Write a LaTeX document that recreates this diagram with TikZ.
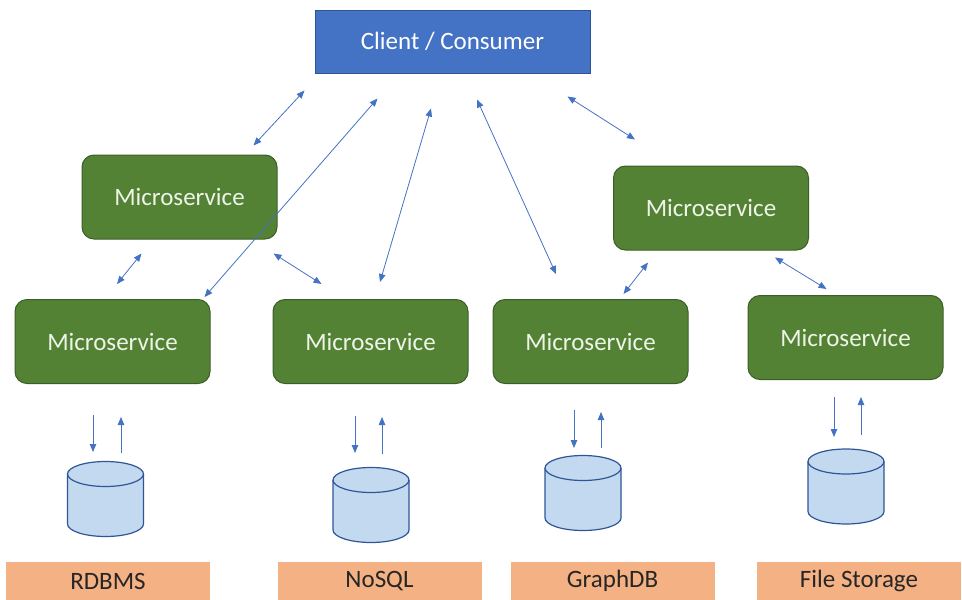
\documentclass[tikz,border=0pt]{standalone}
\usepackage{fontspec}
\setmainfont{Carlito}
\usetikzlibrary{arrows.meta}
\definecolor{clientblue}{HTML}{4472C4}
\definecolor{clientline}{HTML}{2F5597}
\definecolor{msgreen}{HTML}{548235}
\definecolor{msline}{HTML}{3B5E27}
\definecolor{mstext}{HTML}{EEF5E8}
\definecolor{dbfill}{HTML}{C3D9F0}
\definecolor{dbline}{HTML}{2F5597}
\definecolor{storeorange}{HTML}{F4B183}
\definecolor{storetext}{HTML}{262626}
\definecolor{linkblue}{HTML}{4472C4}

\begin{document}
\begin{tikzpicture}[x=1pt,y=-1pt,
    every node/.style={font=\fontsize{25}{30}\selectfont},
    client/.style={draw=clientline,line width=1pt,fill=clientblue,text=white,
      minimum width=275,minimum height=63},
    service/.style={draw=msline,line width=1pt,fill=msgreen,text=mstext,
      rounded corners=12,minimum width=195,minimum height=84},
    can/.style={draw=dbline,line width=1.2pt,fill=dbfill},
    store/.style={fill=storeorange,text=storetext,minimum width=204,minimum height=39},
    link/.style={linkblue,line width=0.8pt,<->,>={Triangle[length=8pt,width=6.5pt]}},
    flow/.style={linkblue,line width=0.8pt,->,>={Triangle[length=8pt,width=6.5pt]}}]

  \useasboundingbox (0,0) rectangle (962,600);

  \node[client] (client) at (452.5,41.5) {Client / Consumer};

  \node[service] (ms1) at (179.5,197) {Microservice};
  \node[service] (ms2) at (711,208) {Microservice};
  \node[service] (ms3) at (112.5,341.5) {Microservice};
  \node[service] (ms4) at (370.5,341.5) {Microservice};
  \node[service] (ms5) at (590.5,341.5) {Microservice};
  \node[service] (ms6) at (845.5,337.5) {Microservice};

  \coordinate (db1) at (105.5,499);
  \coordinate (db2) at (371,505);
  \coordinate (db3) at (583,493);
  \coordinate (db4) at (846,486.5);

  \foreach \c in {db1,db2,db3,db4}{
    \draw[can] ([shift={(-38,-25)}]\c) -- ([shift={(-38,25)}]\c)
      arc (180:360:38pt and 12.5pt) -- ([shift={(38,-25)}]\c)
      arc (0:180:38pt and 12.5pt) -- cycle;
    \draw[can,fill=none] ([shift={(-38,-25)}]\c) arc (180:360:38pt and 12.5pt);
  }

  \node[store] (rdbms) at (108,581) {RDBMS};
  \node[store] (nosql) at (379.5,581) {NoSQL};
  \node[store] (graph) at (612.5,581) {GraphDB};
  \node[store] (files) at (859,581) {File Storage};

  \draw[link] ([shift={(-10,17)}]client.south west) -- ([shift={(-24,-9)}]ms1.north east);
  \draw[link] ([shift={(63,25)}]client.south west) -- ([shift={(-6,-2)}]ms3.north east);
  \draw[link] ([shift={(-21.5,35)}]client.south) -- ([shift={(9.5,-17)}]ms4.north);
  \draw[link] ([shift={(24.5,26)}]client.south) -- ([shift={(-34.5,-25)}]ms5.north);
  \draw[link] ([shift={(-23,23)}]client.south east) -- ([shift={(22,-26)}]ms2.north west);

  \draw[link] ([shift={(60,14)}]ms1.south west) -- ([shift={(4.5,-15)}]ms3.north);
  \draw[link] ([shift={(-4,14)}]ms1.south east) -- ([shift={(49,-15)}]ms4.north west);
  \draw[link] ([shift={(35,12)}]ms2.south west) -- ([shift={(-65,-5)}]ms5.north east);
  \draw[link] ([shift={(-34,7)}]ms2.south east) -- ([shift={(79,-6)}]ms6.north west);

  \draw[flow] ([shift={(-12.5,-84)}]db1) -- ([shift={(-12.5,-47)}]db1);
  \draw[flow] ([shift={(15.5,-46)}]db1) -- ([shift={(15.5,-82)}]db1);
  \draw[flow] ([shift={(-16,-89)}]db2) -- ([shift={(-16,-52)}]db2);
  \draw[flow] ([shift={(11,-51)}]db2) -- ([shift={(11,-88)}]db2);
  \draw[flow] ([shift={(-9,-83)}]db3) -- ([shift={(-9,-45)}]db3);
  \draw[flow] ([shift={(18,-45)}]db3) -- ([shift={(18,-81)}]db3);
  \draw[flow] ([shift={(-12,-89.5)}]db4) -- ([shift={(-12,-49.5)}]db4);
  \draw[flow] ([shift={(15,-51.5)}]db4) -- ([shift={(15,-89.5)}]db4);
\end{tikzpicture}
\end{document}
